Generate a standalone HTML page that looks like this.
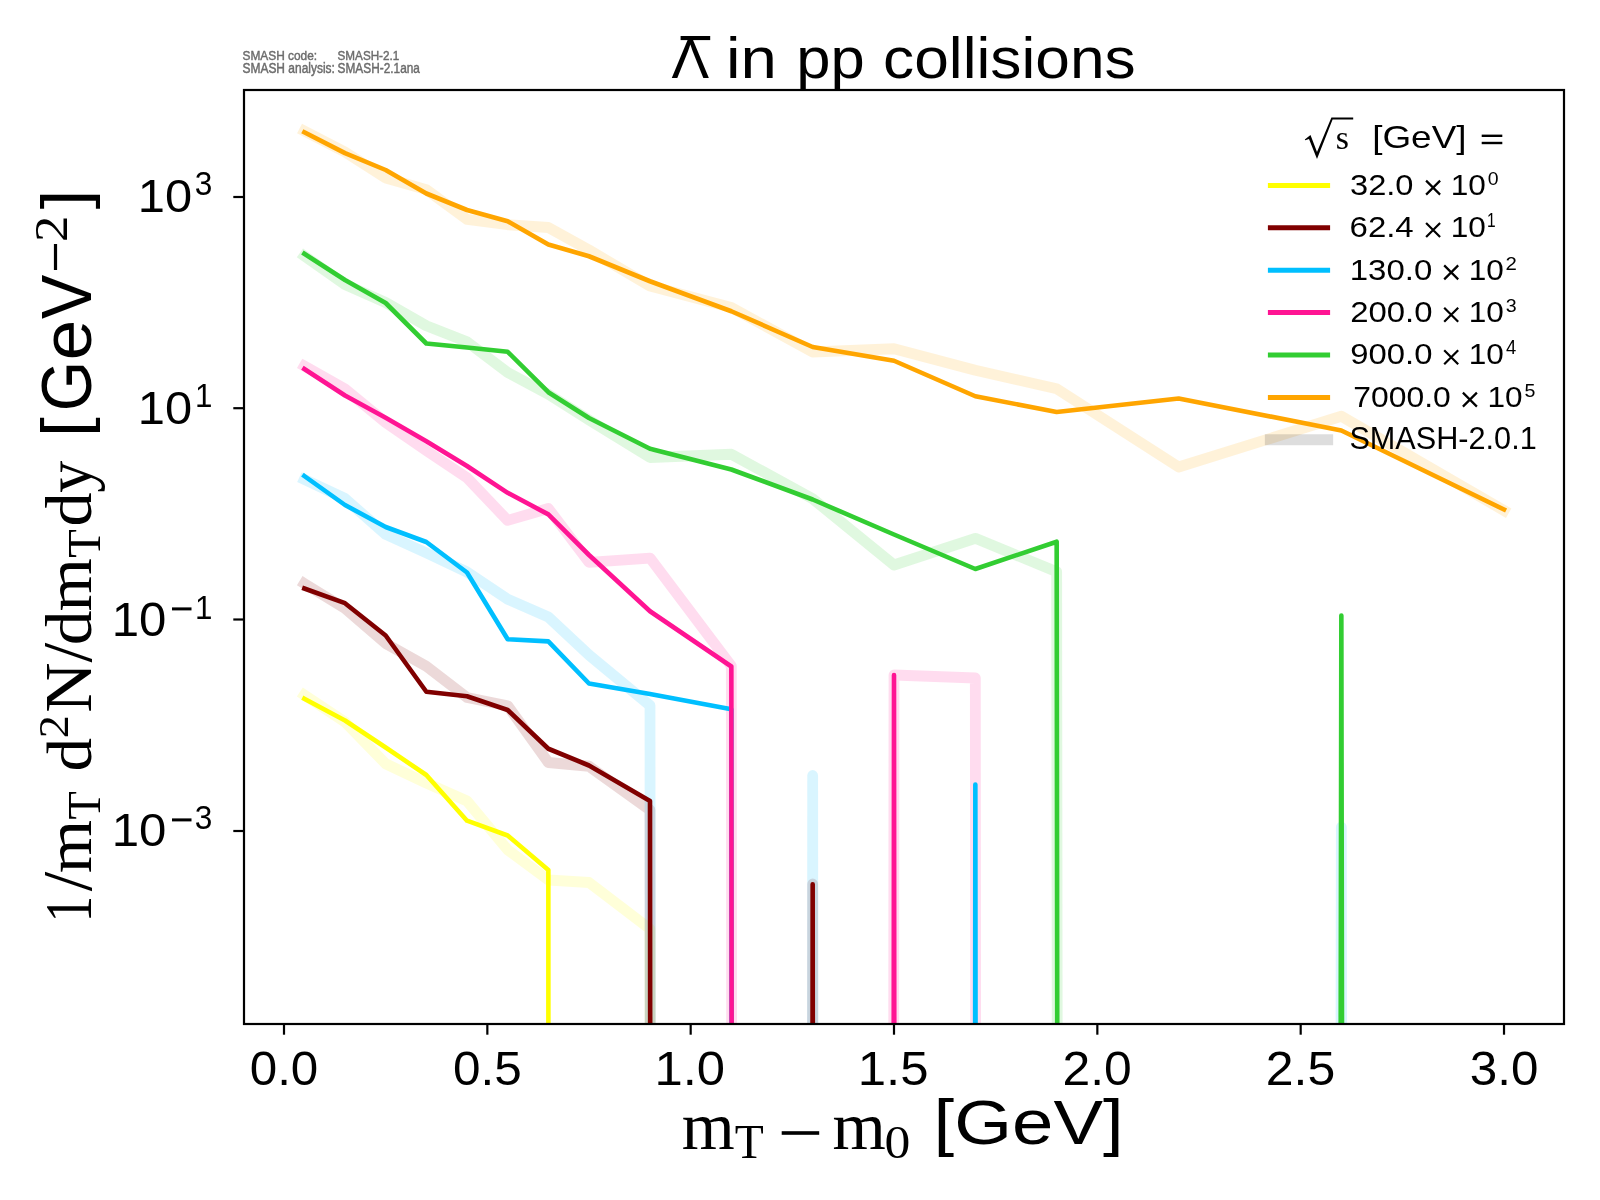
<!DOCTYPE html><html><head><meta charset="utf-8"><style>html,body{margin:0;padding:0;background:#fff;width:1600px;height:1200px;overflow:hidden}svg{display:block;will-change:transform}text{font-family:"Liberation Sans",sans-serif;font-kerning:none}.serif{font-family:"Liberation Serif",serif}</style></head><body>
<svg width="1600" height="1200" viewBox="0 0 1600 1200">
<rect x="0" y="0" width="1600" height="1200" fill="#fff"/>
<defs><clipPath id="ax"><rect x="244" y="90" width="1320" height="934"/></clipPath></defs>
<g clip-path="url(#ax)" fill="none" stroke-linejoin="round" stroke-linecap="square">
<polyline points="304.33,695.00 345.00,722.00 385.67,763.75 426.33,783.00 467.00,801.00 507.67,849.80 548.34,880.00 589.00,882.50 650.00,929.00 731.34,106200.00 812.67,106200.00 894.00,106200.00 975.34,106200.00 1056.67,106200.00 1178.67,106200.00 1341.34,106200.00 1504.01,106200.00" stroke="#ffff00" stroke-opacity="0.150" stroke-width="10.80"/>
<polyline points="304.33,583.50 345.00,608.50 385.67,643.50 426.33,666.25 467.00,697.50 507.67,705.75 548.34,762.50 589.00,766.25 650.00,810.00 731.34,106200.00 812.67,884.00 894.00,106200.00 975.34,106200.00 1056.67,106200.00 1178.67,106200.00 1341.34,106200.00 1504.01,106200.00" stroke="#800000" stroke-opacity="0.150" stroke-width="10.80"/>
<polyline points="304.33,479.50 345.00,498.50 385.67,534.40 426.33,552.80 467.00,572.00 507.67,599.20 548.34,617.00 589.00,655.00 650.00,705.50 731.34,106200.00 812.67,775.50 894.00,106200.00 975.34,106200.00 1056.67,106200.00 1178.67,106200.00 1341.34,827.00 1504.01,106200.00" stroke="#00bfff" stroke-opacity="0.150" stroke-width="10.80"/>
<polyline points="304.33,366.00 345.00,389.00 385.67,422.50 426.33,450.60 467.00,477.80 507.67,520.40 548.34,508.50 589.00,562.30 650.00,558.10 731.34,666.00 812.67,106200.00 894.00,675.00 975.34,678.00 1056.67,106200.00 1178.67,106200.00 1341.34,106200.00 1504.01,106200.00" stroke="#ff1493" stroke-opacity="0.150" stroke-width="10.80"/>
<polyline points="304.33,256.00 345.00,284.50 385.67,302.50 426.33,325.75 467.00,341.75 507.67,372.50 548.34,394.25 589.00,420.00 650.00,457.50 731.34,454.25 812.67,498.75 894.00,565.00 975.34,538.30 1056.67,571.70 1178.67,106200.00 1341.34,106200.00 1504.01,106200.00" stroke="#32cd32" stroke-opacity="0.150" stroke-width="10.80"/>
<polyline points="304.33,131.00 345.00,152.00 385.67,178.00 426.33,189.60 467.00,219.40 507.67,224.75 548.34,227.50 589.00,250.00 650.00,286.00 731.34,307.50 812.67,352.00 894.00,348.75 975.34,370.25 1056.67,388.75 1178.67,467.00 1341.34,416.25 1504.01,510.50" stroke="#ffa500" stroke-opacity="0.150" stroke-width="10.80"/>
<polyline points="304.33,698.70 345.00,720.50 385.67,747.50 426.33,775.00 467.00,820.70 507.67,835.50 548.34,870.00 589.00,106200.00 650.00,106200.00 731.34,106200.00 812.67,106200.00 894.00,106200.00 975.34,106200.00 1056.67,106200.00 1178.67,106200.00 1341.34,106200.00 1504.01,106200.00" stroke="#ffff00" stroke-width="4.60"/>
<polyline points="304.33,588.50 345.00,603.20 385.67,635.50 426.33,691.75 467.00,696.25 507.67,710.00 548.34,748.75 589.00,765.50 650.00,801.00 731.34,106200.00 812.67,884.20 894.00,106200.00 975.34,106200.00 1056.67,106200.00 1178.67,106200.00 1341.34,106200.00 1504.01,106200.00" stroke="#800000" stroke-width="4.60"/>
<polyline points="304.33,476.00 345.00,505.00 385.67,527.00 426.33,542.00 467.00,572.50 507.67,639.30 548.34,641.40 589.00,683.50 650.00,694.00 731.34,709.20 812.67,106200.00 894.00,106200.00 975.34,784.50 1056.67,106200.00 1178.67,106200.00 1341.34,106200.00 1504.01,106200.00" stroke="#00bfff" stroke-width="4.60"/>
<polyline points="304.33,369.00 345.00,395.50 385.67,417.80 426.33,441.25 467.00,466.00 507.67,492.80 548.34,514.40 589.00,555.00 650.00,611.25 731.34,666.50 812.67,106200.00 894.00,675.00 975.34,106200.00 1056.67,106200.00 1178.67,106200.00 1341.34,106200.00 1504.01,106200.00" stroke="#ff1493" stroke-width="4.60"/>
<polyline points="304.33,253.75 345.00,280.00 385.67,303.00 426.33,343.50 467.00,347.50 507.67,351.80 548.34,392.20 589.00,418.00 650.00,448.75 731.34,469.50 812.67,499.50 894.00,534.50 975.34,569.00 1056.67,541.70 1178.67,106200.00 1341.34,615.50 1504.01,106200.00" stroke="#32cd32" stroke-width="4.60"/>
<polyline points="304.33,132.25 345.00,153.10 385.67,170.00 426.33,193.50 467.00,210.00 507.67,221.25 548.34,244.50 589.00,256.25 650.00,281.25 731.34,311.25 812.67,347.00 894.00,360.75 975.34,396.25 1056.67,412.00 1178.67,398.50 1341.34,430.50 1504.01,509.50" stroke="#ffa500" stroke-width="4.60"/>
</g>
<rect x="244" y="90" width="1320" height="934" fill="none" stroke="#000" stroke-width="2.2" stroke-linejoin="miter"/>
<line x1="284.00" y1="1025" x2="284.00" y2="1034.7" stroke="#000" stroke-width="2.2"/>
<text transform="translate(249.67,1084.94) scale(1.0407,1)" font-size="47.46" fill="#000">0.0</text>
<line x1="487.34" y1="1025" x2="487.34" y2="1034.7" stroke="#000" stroke-width="2.2"/>
<text transform="translate(453.00,1084.94) scale(1.0431,1)" font-size="47.46" fill="#000">0.5</text>
<line x1="690.67" y1="1025" x2="690.67" y2="1034.7" stroke="#000" stroke-width="2.2"/>
<text transform="translate(654.40,1084.94) scale(1.0710,1)" font-size="47.46" fill="#000">1.0</text>
<line x1="894.00" y1="1025" x2="894.00" y2="1034.7" stroke="#000" stroke-width="2.2"/>
<text transform="translate(857.72,1084.93) scale(1.0579,1)" font-size="48.15" fill="#000">1.5</text>
<line x1="1097.34" y1="1025" x2="1097.34" y2="1034.7" stroke="#000" stroke-width="2.2"/>
<text transform="translate(1062.43,1084.94) scale(1.0497,1)" font-size="47.46" fill="#000">2.0</text>
<line x1="1300.68" y1="1025" x2="1300.68" y2="1034.7" stroke="#000" stroke-width="2.2"/>
<text transform="translate(1265.76,1084.94) scale(1.0521,1)" font-size="47.46" fill="#000">2.5</text>
<line x1="1504.01" y1="1025" x2="1504.01" y2="1034.7" stroke="#000" stroke-width="2.2"/>
<text transform="translate(1469.73,1084.94) scale(1.0400,1)" font-size="47.46" fill="#000">3.0</text>
<line x1="233.3" y1="197.00" x2="243" y2="197.00" stroke="#000" stroke-width="2.2"/>
<line x1="233.3" y1="408.20" x2="243" y2="408.20" stroke="#000" stroke-width="2.2"/>
<line x1="233.3" y1="619.50" x2="243" y2="619.50" stroke="#000" stroke-width="2.2"/>
<line x1="233.3" y1="831.00" x2="243" y2="831.00" stroke="#000" stroke-width="2.2"/>
<text transform="translate(137.78,212.04) scale(1.0479,1)" font-size="46.61" fill="#000">10</text>
<text transform="translate(194.80,195.18) scale(0.9532,1)" font-size="33.19" fill="#000">3</text>
<text transform="translate(137.78,424.04) scale(1.0479,1)" font-size="46.61" fill="#000">10</text>
<text transform="translate(195.11,406.80) scale(0.9532,1)" font-size="32.85" fill="#000">1</text>
<text transform="translate(111.76,636.04) scale(1.0386,1)" font-size="47.32" fill="#000">10</text>
<rect x="172" y="607.4" width="19.5" height="3" fill="#000"/>
<text transform="translate(195.11,619.00) scale(0.9366,1)" font-size="33.43" fill="#000">1</text>
<text transform="translate(111.76,846.04) scale(1.0544,1)" font-size="46.61" fill="#000">10</text>
<rect x="172" y="818.4" width="19.5" height="3" fill="#000"/>
<text transform="translate(194.80,829.18) scale(0.9532,1)" font-size="33.19" fill="#000">3</text>
<text transform="translate(671.42,77.93) scale(1.0259,1)" font-size="54.94" fill="#000">Λ</text>
<rect x="680.6" y="36" width="29.6" height="4.1" fill="#000"/>
<text transform="translate(726.02,77.90) scale(1.1315,1)" font-size="57.82" fill="#000">in</text>
<text transform="translate(796.23,77.58) scale(1.0714,1)" font-size="57.44" fill="#000">pp</text>
<text transform="translate(883.11,77.83) scale(1.0743,1)" font-size="57.94" fill="#000">collisions</text>
<text transform="translate(242.46,59.62) scale(0.8730,1)" font-size="13.63" fill="#6c6c6c" stroke="#6c6c6c" stroke-width="0.45">SMASH code:</text>
<text transform="translate(337.57,59.62) scale(0.8582,1)" font-size="13.63" fill="#6c6c6c" stroke="#6c6c6c" stroke-width="0.45">SMASH-2.1</text>
<text transform="translate(242.46,72.76) scale(0.8482,1)" font-size="14.12" fill="#6c6c6c" stroke="#6c6c6c" stroke-width="0.45">SMASH analysis:</text>
<text transform="translate(337.56,72.76) scale(0.8401,1)" font-size="14.12" fill="#6c6c6c" stroke="#6c6c6c" stroke-width="0.45">SMASH-2.1ana</text>
<text class="serif" transform="translate(681.87,1149.40) scale(1.0149,1)" font-size="67.06" fill="#000">m</text>
<text class="serif" transform="translate(734.74,1158.00) scale(0.9948,1)" font-size="47.80" fill="#000">T</text>
<rect x="781.7" y="1131.2" width="37.5" height="3.6" fill="#000"/>
<text class="serif" transform="translate(832.56,1149.40) scale(1.0220,1)" font-size="67.06" fill="#000">m</text>
<text class="serif" transform="translate(884.43,1157.55) scale(1.1140,1)" font-size="46.38" fill="#000">0</text>
<text transform="translate(933.60,1144.46) scale(1.1658,1)" font-size="63.78" fill="#000">[GeV]</text>
<g transform="translate(90.75,917.75) rotate(-90)">
<text class="serif" transform="translate(-4.68,0.00) scale(0.7857,1)" font-size="67.79" fill="#000">1</text>
<text class="serif" transform="translate(26.50,0.58) scale(1.0207,1)" font-size="68.76" fill="#000">/</text>
<text class="serif" transform="translate(44.56,0.00) scale(1.0492,1)" font-size="65.26" fill="#000">m</text>
<text class="serif" transform="translate(98.16,9.00) scale(0.9886,1)" font-size="46.96" fill="#000">T</text>
<text class="serif" transform="translate(146.33,-0.11) scale(1.0650,1)" font-size="62.89" fill="#000">d</text>
<text class="serif" transform="translate(179.47,-22.75) scale(1.0913,1)" font-size="42.29" fill="#000">2</text>
<text class="serif" transform="translate(204.99,0.00) scale(1.0437,1)" font-size="66.82" fill="#000">N</text>
<text class="serif" transform="translate(255.25,0.57) scale(1.0282,1)" font-size="69.14" fill="#000">/</text>
<text class="serif" transform="translate(272.48,-0.13) scale(1.0785,1)" font-size="64.67" fill="#000">d</text>
<text class="serif" transform="translate(306.31,0.00) scale(1.0492,1)" font-size="65.26" fill="#000">m</text>
<text class="serif" transform="translate(359.90,8.85) scale(1.0110,1)" font-size="46.35" fill="#000">T</text>
<text class="serif" transform="translate(391.28,0.11) scale(1.0442,1)" font-size="65.52" fill="#000">d</text>
<text class="serif" transform="translate(424.97,0.21) scale(0.9816,1)" font-size="65.06" fill="#000">y</text>
<text transform="translate(480.79,-4.12) scale(1.1096,1)" font-size="63.94" fill="#000">[</text>
<text transform="translate(506.50,0.35) scale(0.9081,1)" font-size="71.19" fill="#000">G</text>
<text transform="translate(557.56,0.36) scale(1.0341,1)" font-size="70.27" fill="#000">e</text>
<text transform="translate(598.76,0.00) scale(0.9391,1)" font-size="70.86" fill="#000">V</text>
<text class="serif" transform="translate(675.74,-23.85) scale(1.1278,1)" font-size="46.67" fill="#000">2</text>
<text transform="translate(708.40,-4.12) scale(1.1057,1)" font-size="63.94" fill="#000">]</text>
<rect x="647.75" y="-36.85" width="26" height="3.2" fill="#000"/>
</g>
<text class="serif" transform="translate(1335.81,149.28) scale(1.0212,1)" font-size="33.27" fill="#000">s</text>
<path d="M1304.8,139.4 L1310.5,135.0 L1317.0,152.0 L1331.4,117.6 L1353.2,117.6 L1353.2,119.6 L1332.6,119.6 L1317.0,159.0 L1309.0,139.0 L1305.3,140.2 Z" fill="#000"/>
<text transform="translate(1372.17,147.72) scale(1.1468,1)" font-size="32.18" fill="#000">[GeV]</text>
<rect x="1481.7" y="134.6" width="20.6" height="2.4" fill="#000"/>
<rect x="1481.7" y="141.8" width="20.6" height="2.4" fill="#000"/>
<line x1="1270.4" y1="185.40" x2="1327.6" y2="185.40" stroke="#ffff00" stroke-width="5" stroke-linecap="square"/>
<text transform="translate(1350.01,194.71) scale(1.0865,1)" font-size="30.01" fill="#000">32.0</text>
<path d="M1426.10,180.60 L1440.10,194.60 M1426.10,194.60 L1440.10,180.60" stroke="#000" stroke-width="2.2"/>
<text transform="translate(1450.69,194.71) scale(1.0526,1)" font-size="30.01" fill="#000">10</text>
<text transform="translate(1487.64,184.51) scale(1.0241,1)" font-size="19.00" fill="#000">0</text>
<line x1="1270.4" y1="227.80" x2="1327.6" y2="227.80" stroke="#800000" stroke-width="5" stroke-linecap="square"/>
<text transform="translate(1349.58,237.11) scale(1.0980,1)" font-size="30.01" fill="#000">62.4</text>
<path d="M1426.10,223.00 L1440.10,237.00 M1426.10,237.00 L1440.10,223.00" stroke="#000" stroke-width="2.2"/>
<text transform="translate(1450.69,237.11) scale(1.0526,1)" font-size="30.01" fill="#000">10</text>
<text transform="translate(1486.92,227.10) scale(0.7949,1)" font-size="19.55" fill="#000">1</text>
<line x1="1270.4" y1="270.20" x2="1327.6" y2="270.20" stroke="#00bfff" stroke-width="5" stroke-linecap="square"/>
<text transform="translate(1349.69,279.51) scale(1.0998,1)" font-size="30.01" fill="#000">130.0</text>
<path d="M1444.20,265.40 L1458.20,279.40 M1444.20,279.40 L1458.20,265.40" stroke="#000" stroke-width="2.2"/>
<text transform="translate(1468.79,279.51) scale(1.0526,1)" font-size="30.01" fill="#000">10</text>
<text transform="translate(1505.47,269.50) scale(1.0598,1)" font-size="19.26" fill="#000">2</text>
<line x1="1270.4" y1="312.60" x2="1327.6" y2="312.60" stroke="#ff1493" stroke-width="5" stroke-linecap="square"/>
<text transform="translate(1350.15,321.91) scale(1.0963,1)" font-size="30.01" fill="#000">200.0</text>
<path d="M1444.20,307.80 L1458.20,321.80 M1444.20,321.80 L1458.20,307.80" stroke="#000" stroke-width="2.2"/>
<text transform="translate(1468.79,321.91) scale(1.0526,1)" font-size="30.01" fill="#000">10</text>
<text transform="translate(1505.75,311.71) scale(1.0325,1)" font-size="19.00" fill="#000">3</text>
<line x1="1270.4" y1="355.00" x2="1327.6" y2="355.00" stroke="#32cd32" stroke-width="5" stroke-linecap="square"/>
<text transform="translate(1350.26,364.31) scale(1.0947,1)" font-size="30.01" fill="#000">900.0</text>
<path d="M1444.20,350.20 L1458.20,364.20 M1444.20,364.20 L1458.20,350.20" stroke="#000" stroke-width="2.2"/>
<text transform="translate(1468.79,364.31) scale(1.0526,1)" font-size="30.01" fill="#000">10</text>
<text transform="translate(1506.08,354.30) scale(0.9440,1)" font-size="19.55" fill="#000">4</text>
<line x1="1270.4" y1="397.40" x2="1327.6" y2="397.40" stroke="#ffa500" stroke-width="5" stroke-linecap="square"/>
<text transform="translate(1353.37,406.71) scale(1.0619,1)" font-size="30.01" fill="#000">7000.0</text>
<path d="M1462.90,392.60 L1476.90,406.60 M1462.90,406.60 L1476.90,392.60" stroke="#000" stroke-width="2.2"/>
<text transform="translate(1487.49,406.71) scale(1.0526,1)" font-size="30.01" fill="#000">10</text>
<text transform="translate(1524.41,396.51) scale(1.0176,1)" font-size="19.28" fill="#000">5</text>
<line x1="1270.4" y1="439.70" x2="1327.6" y2="439.70" stroke="#000" stroke-opacity="0.135" stroke-width="11.1" stroke-linecap="square"/>
<text transform="translate(1349.41,449.39) scale(0.9771,1)" font-size="31.36" fill="#000">SMASH-2.0.1</text>
</svg></body></html>
